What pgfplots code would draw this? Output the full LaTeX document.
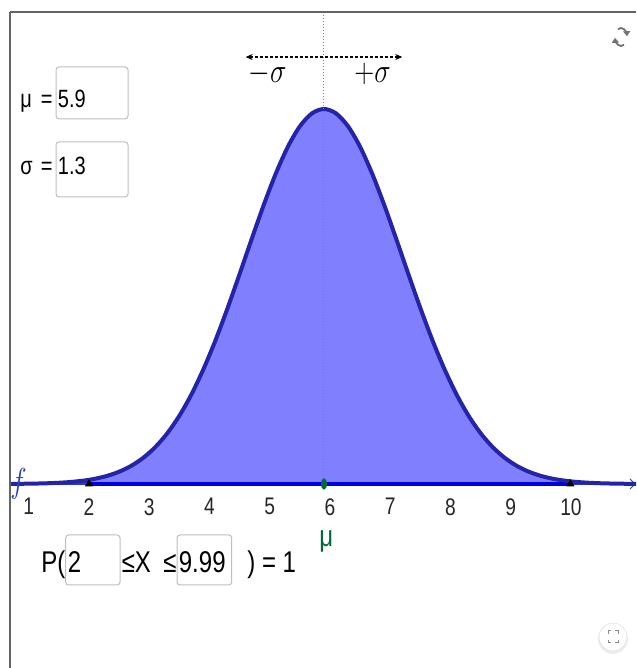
\documentclass[border=0pt]{standalone}
\usepackage{pgfplots}
\pgfplotsset{compat=1.18}
\usepackage{pgfplotstable}
\usepackage{graphicx}
\usepackage{fontspec}
\setmainfont{Liberation Sans}
\usetikzlibrary{arrows.meta}

\definecolor{fillblue}{RGB}{128,128,255}
\definecolor{curveblue}{RGB}{36,36,168}
\definecolor{axisblue}{RGB}{40,64,190}
\definecolor{segblue}{RGB}{0,0,225}
\definecolor{mugreen}{RGB}{0,105,60}
\definecolor{boxgray}{RGB}{190,190,190}
\definecolor{framegray}{RGB}{100,100,100}

% text in the applet is narrow
\newcommand{\sq}[1]{\scalebox{0.8}[1]{#1}}
\newcommand{\fa}{\fontsize{12.5}{14}\selectfont}
\newcommand{\fb}{\fontsize{15}{17}\selectfont}

% normal density, mu = 5.9, sigma = 1.3
\pgfplotstableread{
x y
0.7 0.00010
0.9 0.00019
1.1 0.00034
1.3 0.00059
1.5 0.00100
1.7 0.00166
1.9 0.00270
2.0 0.00341
2.1 0.00428
2.3 0.00663
2.5 0.01004
2.7 0.01483
2.9 0.02141
3.1 0.03017
3.3 0.04153
3.5 0.05583
3.7 0.07330
3.9 0.09398
4.1 0.11767
4.3 0.14389
4.5 0.17184
4.7 0.20042
4.9 0.22829
5.1 0.25394
5.3 0.27588
5.5 0.29269
5.7 0.30327
5.9 0.30688
6.1 0.30327
6.3 0.29269
6.5 0.27588
6.7 0.25394
6.9 0.22829
7.1 0.20042
7.3 0.17184
7.5 0.14389
7.7 0.11767
7.9 0.09398
8.1 0.07330
8.3 0.05583
8.5 0.04153
8.7 0.03017
8.9 0.02141
9.1 0.01483
9.3 0.01004
9.5 0.00663
9.7 0.00428
9.9 0.00270
10.1 0.00166
10.3 0.00100
10.5 0.00059
10.7 0.00034
10.9 0.00019
11.1 0.00010
}\curve

% shaded part, P(2 <= X <= 9.99)
\pgfplotstableread{
x y
2.0 0.00341
2.1 0.00428
2.3 0.00663
2.5 0.01004
2.7 0.01483
2.9 0.02141
3.1 0.03017
3.3 0.04153
3.5 0.05583
3.7 0.07330
3.9 0.09398
4.1 0.11767
4.3 0.14389
4.5 0.17184
4.7 0.20042
4.9 0.22829
5.1 0.25394
5.3 0.27588
5.5 0.29269
5.7 0.30327
5.9 0.30688
6.1 0.30327
6.3 0.29269
6.5 0.27588
6.7 0.25394
6.9 0.22829
7.1 0.20042
7.3 0.17184
7.5 0.14389
7.7 0.11767
7.9 0.09398
8.1 0.07330
8.3 0.05583
8.5 0.04153
8.7 0.03017
8.9 0.02141
9.1 0.01483
9.3 0.01004
9.5 0.00663
9.7 0.00428
9.9 0.00270
9.99 0.00218
}\area

\begin{document}
\begin{tikzpicture}
\path[use as bounding box] (0,0) rectangle (318pt,334pt);
\begin{axis}[
    at={(0,0)}, anchor=south west,
    width=318pt, height=334pt, scale only axis,
    xmin=0.5228, xmax=11.079,
    ymin=-0.15057, ymax=0.39607,
    axis x line=middle, axis y line=none,
    x axis line style={draw=none,-},
    major tick length=0pt,
    xtick={1,2,3,4,5,6,7,8,9,10},
    xticklabels={\sq{1},\sq{2},\sq{3},\sq{4},\sq{5},\sq{6},\sq{7},\sq{8},\sq{9},\sq{10}},
    xticklabel style={anchor=north, inner sep=0pt, yshift=-7pt, font=\fontsize{12}{14}\selectfont, text=black!85},
]
\addplot[draw=none, fill=fillblue, smooth] table {\area} \closedcycle;
% x axis
\addplot[axisblue, line width=1.5pt] coordinates {(0.739,0) (11.06,0)};
\addplot[axisblue, line width=0.5pt] coordinates {(10.98,0.0041) (11.06,0) (10.98,-0.0041)};
\addplot[segblue, line width=2.4pt] coordinates {(2,0) (9.99,0)};
% density
\addplot[curveblue, line width=2pt, smooth] table {\curve};
% mean line and sigma arrow
\addplot[black!50, densely dotted, line width=0.5pt] coordinates {(5.9,0) (5.9,0.3846)};
\addplot[black, dash pattern=on 1.5pt off 1pt, line width=0.6pt, {Stealth[length=3.5pt,width=3pt]}-{Stealth[length=3.5pt,width=3pt]}]
    coordinates {(4.6,0.3494) (7.2,0.3494)};
% bounds and mean point
\addplot[only marks, mark=triangle*, mark size=2pt, black] coordinates {(2,0) (9.99,0)};
\addplot[only marks, mark=*, mark size=2.6pt, mugreen, mark options={xscale=0.5}] coordinates {(5.9,0)};
\end{axis}

% applet furniture, in pixel units of the screenshot
\begin{scope}[shift={(0pt,334pt)}, x=0.5pt, y=-0.5pt]
\draw[framegray, line width=1pt] (10,12.5) -- (636,12.5);
\draw[framegray, line width=1pt] (10,12) -- (10,668);

\node[anchor=base, inner sep=0pt] at (267.5,82.5) {\fontsize{16.5}{18}\selectfont\sq{$-\sigma$}};
\node[anchor=base, inner sep=0pt] at (372.5,82.5) {\fontsize{16.5}{18}\selectfont\sq{$+\sigma$}};

\node[anchor=base west, inner sep=0pt, text=axisblue] at (10,493) {\fontsize{19}{21}\selectfont\sq{$f$}};

% mu and sigma inputs
\draw[boxgray, rounded corners=1.5pt, line width=0.5pt] (56,67) rectangle (128,119);
\draw[boxgray, rounded corners=1.5pt, line width=0.5pt] (56,142) rectangle (128,197);
\node[anchor=base west, inner sep=0pt] at (20,108) {\fa\sq{μ}};
\node[anchor=base west, inner sep=0pt] at (40.5,108) {\fa\sq{=}};
\node[anchor=base west, inner sep=0pt] at (57.5,108) {\fa\sq{5.9}};
\node[anchor=base west, inner sep=0pt] at (20,175) {\fa\sq{σ}};
\node[anchor=base west, inner sep=0pt] at (40.5,175) {\fa\sq{=}};
\node[anchor=base west, inner sep=0pt] at (57.5,175) {\fa\sq{1.3}};

% probability line
\draw[boxgray, rounded corners=1.5pt, line width=0.5pt] (65.7,535) rectangle (120,585);
\draw[boxgray, rounded corners=1.5pt, line width=0.5pt] (177,535) rectangle (231.7,585);
\node[anchor=base west, inner sep=0pt] at (41,573) {\fb\sq{P(}};
\node[anchor=base west, inner sep=0pt] at (67.5,573) {\fb\sq{2}};
\node[anchor=base west, inner sep=0pt] at (121.5,573) {\fb\sq{≤}};
\node[anchor=base west, inner sep=0pt] at (134.5,573) {\fb\sq{X}};
\node[anchor=base west, inner sep=0pt] at (163,573) {\fb\sq{≤}};
\node[anchor=base west, inner sep=0pt] at (178.5,573) {\fb\sq{9.99}};
\node[anchor=base west, inner sep=0pt] at (247,573) {\fb\sq{) = 1}};
\node[anchor=base west, inner sep=0pt, text=mugreen] at (319,547) {\fb\sq{μ}};

% refresh icon
\draw[black!55, line width=0.9pt, -{Triangle[length=2.5pt,width=3.5pt]}]
    (621,37) ++(60:6 and 9) arc[start angle=60, end angle=175, x radius=6, y radius=9];
\draw[black!55, line width=0.9pt, -{Triangle[length=2.5pt,width=3.5pt]}]
    (621,37) ++(240:6 and 9) arc[start angle=240, end angle=355, x radius=6, y radius=9];

% fullscreen button
\fill[black!7] (613,639) circle (15);
\fill[white] (613,637) circle (14);
\draw[black!12, line width=0.3pt] (613,637) circle (14);
\draw[black!45, line width=0.5pt] (608,634) -- (608,631) -- (611,631);
\draw[black!45, line width=0.5pt] (615,631) -- (618,631) -- (618,634);
\draw[black!45, line width=0.5pt] (608,640) -- (608,643) -- (611,643);
\draw[black!45, line width=0.5pt] (615,643) -- (618,643) -- (618,640);
\end{scope}
\end{tikzpicture}
\end{document}
